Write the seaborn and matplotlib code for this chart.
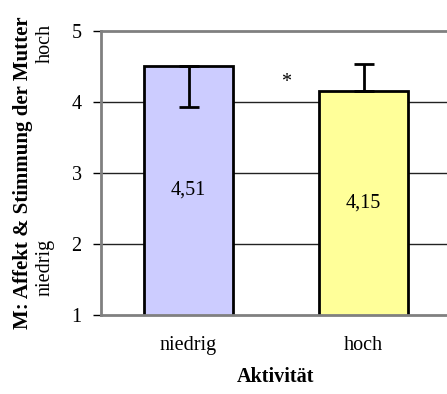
import matplotlib
matplotlib.use("Agg")
import matplotlib.pyplot as plt
import seaborn as sns
import pandas as pd

# Data
categories = ["niedrig", "hoch"]
means = [4.51, 4.15]
err_lower = [0.585, 0.0]
err_upper = [0.0, 0.385]
bar_colors = ["#CCCCFF", "#FFFF99"]
y_ticks = [1, 2, 3, 4, 5]

sns.set_style("white")
plt.rcParams["font.family"] = ["Liberation Serif", "DejaVu Serif"]

fig = plt.figure(figsize=(4.47, 3.94), dpi=100)
W, H = 447, 394
left, right, top, bottom = 101, 451, 31, 315
ax = fig.add_axes([left / W, 1 - bottom / H, (right - left) / W, (bottom - top) / H])

df = pd.DataFrame({"Aktivität": categories, "M": means})
sns.barplot(data=df, x="Aktivität", y="M", hue="Aktivität", palette=bar_colors,
            saturation=1, width=0.507, edgecolor="black", linewidth=2,
            legend=False, ax=ax, zorder=2)

ax.errorbar(range(len(categories)), means, yerr=[err_lower, err_upper],
            fmt="none", ecolor="black", elinewidth=2, capsize=7.5, capthick=2,
            zorder=3)

for i, v in enumerate(means):
    ax.text(i, (y_ticks[0] + v) / 2, f"{v:.2f}".replace(".", ","),
            ha="center", va="center", fontsize=14.5, color="black", zorder=4)

ax.text(0.56, 4.27, "*", ha="center", va="center", fontsize=14.5, color="black")

ax.set_ylim(1, 5)
ax.set_xlim(-0.5, 1.5)
ax.set_yticks(y_ticks)
ax.set_yticklabels([str(t) for t in y_ticks], fontsize=14.5, color="black")
ax.set_xticks(range(len(categories)))
ax.set_xticklabels(categories, fontsize=14.5, color="black")
ax.tick_params(axis="x", which="major", length=0, pad=15)
ax.set_xticks([-0.5, 0.5, 1.5], minor=True)
ax.tick_params(axis="x", which="minor", length=5, width=1, color="black",
               direction="out")
ax.tick_params(axis="y", length=6, width=1, color="black", direction="out",
               pad=8, left=True)

for y in y_ticks[1:-1]:
    ax.axhline(y, color="#222222", linewidth=1, zorder=1)

for side in ["left", "bottom", "top"]:
    ax.spines[side].set_visible(True)
    ax.spines[side].set_color("#808080")
    ax.spines[side].set_linewidth(2)
ax.spines["right"].set_visible(False)

ax.set_xlabel("Aktivität", fontsize=14.5, fontweight="bold", labelpad=9,
              color="black")
ax.set_ylabel("")

fig.text(23 / W, 1 - 173 / H, "M: Affekt & Stimmung der Mutter",
         rotation=90, ha="center", va="center", fontsize=15, fontweight="bold",
         color="black")
fig.text(45 / W, 1 - 43 / H, "hoch", rotation=90, ha="center", va="center",
         fontsize=14.5, color="black")
fig.text(45 / W, 1 - 267 / H, "niedrig", rotation=90, ha="center", va="center",
         fontsize=14.5, color="black")

fig.savefig("out.png", dpi=100)
